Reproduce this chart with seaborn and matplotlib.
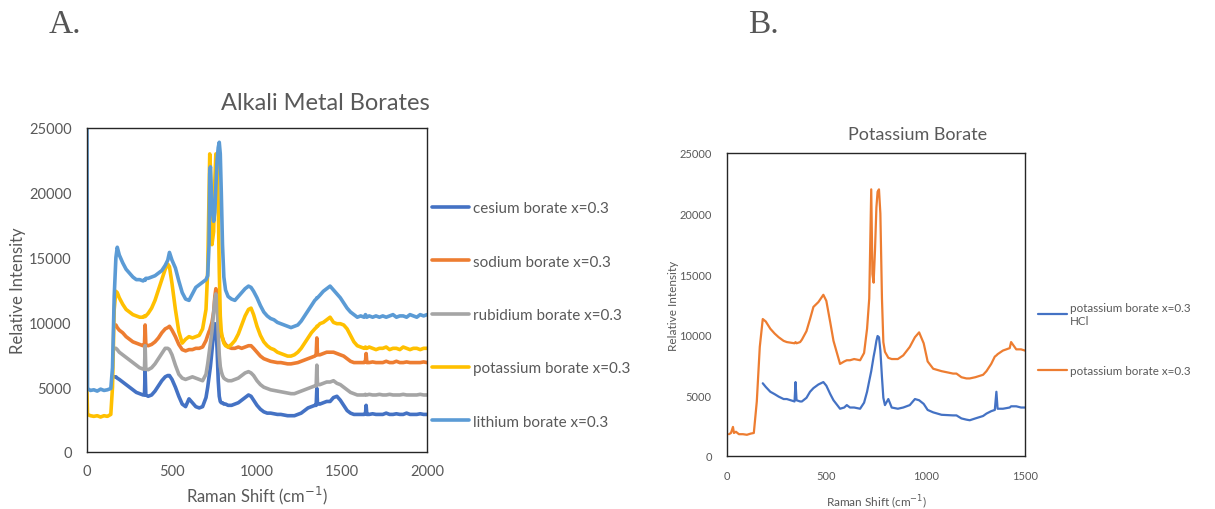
import numpy as np
import pandas as pd
import matplotlib
matplotlib.use("Agg")
import matplotlib.pyplot as plt
import seaborn as sns

nan = np.nan

# ---------------- Panel A data ----------------
shift_a = [
    0, 3, 20, 40, 60, 80, 100, 120, 140, 150,
    160, 170, 178, 190, 210, 230, 250, 270, 290, 310,
    330, 338, 342, 346, 360, 380, 400, 420, 440, 460,
    475, 485, 500, 520, 540, 560, 580, 600, 620, 640,
    660, 680, 700, 710, 718, 722, 726, 735, 745, 752,
    758, 765, 772, 778, 784, 790, 797, 805, 815, 830,
    850, 870, 890, 910, 930, 950, 965, 980, 1000, 1020,
    1040, 1060, 1080, 1100, 1120, 1140, 1160, 1180, 1200, 1220,
    1240, 1260, 1280, 1300, 1320, 1340, 1348, 1352, 1356, 1370,
    1390, 1410, 1430, 1450, 1470, 1490, 1510, 1530, 1550, 1570,
    1590, 1610, 1630, 1638, 1642, 1646, 1660, 1680, 1700, 1720,
    1740, 1760, 1780, 1800, 1820, 1840, 1860, 1880, 1900, 1920,
    1940, 1960, 1980, 2000,
]

cesium = [
    nan, nan, nan, nan, nan, nan, nan, nan, nan, nan,
    5800, 5800, 5700, 5600, 5400, 5200, 5000, 4800, 4600, 4500,
    4400, 4400, 6300, 4400, 4300, 4400, 4700, 5100, 5500, 5800,
    5900, 5900, 5600, 5000, 4300, 3700, 3500, 4100, 3800, 3500,
    3400, 3500, 4200, 5000, 5800, 6200, 6600, 7800, 9300, 9900,
    9600, 8000, 5500, 4300, 3900, 3800, 3800, 3700, 3700, 3600,
    3600, 3700, 3800, 4000, 4200, 4400, 4300, 4000, 3600, 3300,
    3100, 3000, 3000, 2950, 2900, 2900, 2850, 2800, 2800, 2800,
    2900, 3000, 3200, 3400, 3500, 3600, 3600, 4900, 3700, 3700,
    3800, 3900, 3900, 4200, 4300, 4000, 3600, 3200, 3000, 2900,
    2900, 2900, 2900, 2950, 3600, 2900, 2900, 2950, 2900, 2900,
    2900, 3000, 2900, 2900, 2950, 2900, 2900, 3000, 2900, 2900,
    2900, 2950, 2900, 2900,
]

sodium = [
    nan, nan, nan, nan, nan, nan, nan, nan, nan, nan,
    9700, 9800, 9600, 9400, 9200, 8900, 8700, 8500, 8400, 8300,
    8200, 8300, 9800, 8300, 8200, 8300, 8500, 8800, 9200, 9500,
    9600, 9700, 9400, 8900, 8300, 7900, 7800, 7900, 7900, 8000,
    8000, 8100, 8600, 9000, 9300, 9400, 9600, 10000, 10800, 12000,
    12600, 12400, 11000, 10000, 9300, 9000, 8800, 8500, 8300, 8100,
    8000, 8000, 8100, 8000, 8100, 8200, 8200, 8000, 7700, 7400,
    7200, 7100, 7000, 6950, 6900, 6900, 6850, 6800, 6800, 6850,
    6900, 7000, 7100, 7200, 7300, 7400, 7500, 8800, 7500, 7500,
    7600, 7700, 7700, 7700, 7600, 7500, 7400, 7200, 7000, 6900,
    6900, 6900, 6900, 7000, 7600, 6900, 6900, 6950, 6900, 6900,
    6900, 7000, 6900, 6900, 7000, 6900, 6900, 6950, 6900, 6900,
    6900, 6900, 6950, 6900,
]

rubidium = [
    nan, nan, nan, nan, nan, nan, nan, nan, nan, nan,
    8000, 8000, 7900, 7700, 7500, 7300, 7100, 6900, 6700, 6500,
    6400, 6400, 8200, 6400, 6350, 6500, 6800, 7200, 7600, 8000,
    8000, 7900, 7500, 6700, 6000, 5700, 5600, 5700, 5800, 5700,
    5600, 5500, 6000, 6800, 7600, 8000, 8400, 9300, 10800, 11800,
    12200, 11500, 9200, 7500, 6600, 6200, 5900, 5700, 5600, 5500,
    5500, 5600, 5700, 5900, 6100, 6200, 6100, 5900, 5500, 5200,
    5000, 4900, 4800, 4750, 4700, 4650, 4600, 4550, 4500, 4500,
    4600, 4700, 4800, 4900, 5000, 5100, 5100, 6700, 5200, 5200,
    5300, 5400, 5400, 5500, 5300, 5200, 5000, 4800, 4600, 4500,
    4400, 4400, 4400, 4450, 4400, 4400, 4450, 4400, 4400, 4450,
    4400, 4400, 4450, 4400, 4400, 4400, 4450, 4400, 4400, 4400,
    4400, 4450, 4400, 4400,
]

potassium = [
    4700, 2900, 2800, 2750, 2800, 2700, 2800, 2750, 2900, 5000,
    11000, 12400, 12300, 11900, 11400, 11000, 10800, 10600, 10500, 10400,
    10400, 10500, 10450, 10500, 10700, 11100, 11700, 12500, 13300, 14100,
    14500, 14300, 13000, 11000, 9300, 8400, 8700, 8900, 8800, 8900,
    9000, 9500, 11000, 14000, 20000, 23000, 22000, 16000, 17000, 21000,
    23000, 22800, 19000, 14000, 10500, 9300, 8800, 8400, 8200, 8100,
    8300, 8600, 9100, 9800, 10500, 11000, 11100, 10600, 9700, 9000,
    8500, 8200, 8000, 7900, 7700, 7600, 7500, 7400, 7400, 7500,
    7700, 8000, 8400, 8800, 9200, 9500, 9600, 9700, 9700, 9900,
    10000, 10200, 10400, 10000, 9900, 9900, 9800, 9500, 9000, 8500,
    8200, 8100, 8000, 8100, 8000, 8000, 8100, 8000, 7900, 8000,
    8000, 8100, 7900, 8000, 8000, 7900, 8100, 8000, 7900, 8000,
    8000, 7900, 8000, 8000,
]

lithium = [
    25000, 4900, 4750, 4800, 4700, 4850, 4750, 4800, 4900, 6500,
    12000, 15000, 15800, 15200, 14600, 14100, 13800, 13500, 13300, 13300,
    13200, 13300, 13250, 13400, 13400, 13500, 13600, 13800, 14000, 14400,
    14800, 15400, 14800, 14200, 13200, 12300, 11800, 11700, 12200, 12700,
    12900, 13100, 13300, 13600, 16000, 21500, 22000, 19000, 17800, 18500,
    20500, 22500, 23500, 23900, 23000, 20000, 16000, 13500, 12500, 12000,
    11800, 11700, 12000, 12300, 12600, 12800, 12700, 12400, 11900, 11300,
    10800, 10500, 10300, 10200, 10000, 9900, 9800, 9700, 9600, 9700,
    9800, 10100, 10500, 10900, 11300, 11700, 11800, 11900, 11900, 12100,
    12400, 12600, 12800, 12500, 12200, 11900, 11500, 11100, 10800, 10600,
    10400, 10500, 10400, 10600, 10500, 10400, 10500, 10400, 10500, 10400,
    10500, 10400, 10500, 10600, 10400, 10500, 10500, 10400, 10600, 10500,
    10400, 10600, 10500, 10600,
]

series_a_names = ["cesium borate x=0.3", "sodium borate x=0.3",
                  "rubidium borate x=0.3", "potassium borate x=0.3",
                  "lithium borate x=0.3"]
series_a_values = [cesium, sodium, rubidium, potassium, lithium]
colors_a = ["#4472C4", "#ED7D31", "#A5A5A5", "#FFC000", "#5B9BD5"]

# ---------------- Panel B data ----------------
shift_b = [
    10, 20, 30, 35, 45, 60, 80, 100, 120, 135,
    150, 165, 180, 195, 218, 240, 260, 285, 301, 340,
    345, 350, 368, 377, 400, 418, 435, 460, 485, 500,
    520, 536, 569, 590, 603, 619, 640, 670, 690, 705,
    716, 726, 732, 738, 745, 752, 758, 765, 772, 780,
    787, 795, 812, 829, 860, 887, 920, 946, 967, 990,
    1010, 1038, 1080, 1138, 1155, 1180, 1205, 1222, 1250, 1289,
    1306, 1330, 1348, 1356, 1362, 1389, 1423, 1430, 1456, 1480,
    1500,
]

k_hcl = [
    nan, nan, nan, nan, nan, nan, nan, nan, nan, nan,
    nan, nan, 6000, 5700, 5300, 5100, 4900, 4700, 4700, 4500,
    6100, 4600, 4500, 4500, 4800, 5300, 5600, 5900, 6100, 5800,
    5100, 4600, 3900, 4000, 4200, 4000, 4000, 3900, 4400, 5300,
    6200, 7000, 7600, 8200, 8800, 9500, 9900, 9800, 8700, 6500,
    4800, 4200, 4700, 4000, 3900, 4000, 4200, 4700, 4600, 4300,
    3800, 3600, 3400, 3350, 3350, 3100, 3000, 2950, 3100, 3300,
    3500, 3700, 3800, 5300, 3900, 3900, 4000, 4100, 4100, 4000,
    4000,
]

k_plain = [
    1800, 1900, 2400, 1900, 2000, 1800, 1800, 1750, 1850, 1900,
    4500, 9000, 11300, 11100, 10500, 10100, 9800, 9500, 9400, 9300,
    9400, 9300, 9400, 9600, 10300, 11300, 12300, 12700, 13300, 12800,
    11000, 9500, 7600, 7800, 7900, 7900, 8000, 7900, 8500, 10500,
    13000, 22000, 15000, 14300, 17000, 20500, 21800, 22000, 20000, 13000,
    9400, 8600, 8100, 8000, 8000, 8300, 9000, 9800, 10200, 9300,
    7800, 7200, 7000, 6800, 6800, 6500, 6400, 6400, 6500, 6700,
    7000, 7600, 8200, 8300, 8400, 8700, 8900, 9400, 8800, 8800,
    8700,
]

series_b_names = ["potassium borate x=0.3\nHCl", "potassium borate x=0.3"]
series_b_values = [k_hcl, k_plain]
colors_b = ["#4472C4", "#ED7D31"]

# ---------------- Build frames ----------------
df_a = pd.concat([
    pd.DataFrame({"shift": shift_a, "intensity": vals, "series": name})
    for name, vals in zip(series_a_names, series_a_values)
], ignore_index=True)
df_b = pd.concat([
    pd.DataFrame({"shift": shift_b, "intensity": vals, "series": name})
    for name, vals in zip(series_b_names, series_b_values)
], ignore_index=True)

sns.set_style("white")
plt.rcParams["font.family"] = ["Lato", "DejaVu Sans"]
txt = "#595959"

fig = plt.figure(figsize=(12.15, 5.1), dpi=100)
W, H = 1215, 510


def add_ax(l, t, r, b):
    return fig.add_axes([l / W, (H - b) / H, (r - l) / W, (b - t) / H])


def style_ax(ax, tick_fs, pad_y, pad_x):
    for s in ax.spines.values():
        s.set_visible(True)
        s.set_color("#262626")
        s.set_linewidth(1.0)
    ax.tick_params(axis="both", length=0, colors=txt, labelsize=tick_fs)
    ax.tick_params(axis="y", pad=pad_y)
    ax.tick_params(axis="x", pad=pad_x)
    ax.grid(False)


# ---------- Panel A ----------
axA = add_ax(87, 129, 427, 453)
sns.lineplot(data=df_a, x="shift", y="intensity", hue="series",
             hue_order=series_a_names, palette=colors_a, sort=False,
             estimator=None, linewidth=2.6, ax=axA)
axA.set_xlim(0, 2000)
axA.set_ylim(0, 25000)
axA.set_xticks([0, 500, 1000, 1500, 2000])
axA.set_yticks([0, 5000, 10000, 15000, 20000, 25000])
style_ax(axA, 10.5, 11, 9)
axA.set_xlabel("Raman Shift (cm$^{-1}$)", fontsize=12, color=txt, labelpad=4)
axA.set_ylabel("Relative Intensity", fontsize=12, color=txt, labelpad=2)
axA.set_title("Alkali Metal Borates", fontsize=17, color=txt, pad=14,
              x=0.70)
axA.legend(loc="center left", bbox_to_anchor=(432 / W, (H - 316) / H),
           bbox_transform=fig.transFigure, frameon=False, fontsize=11,
           handlelength=2.4, handletextpad=0.3, labelspacing=2.58,
           borderpad=0, borderaxespad=0, labelcolor=txt)

# ---------- Panel B ----------
axB = add_ax(727, 154, 1025, 457)
sns.lineplot(data=df_b, x="shift", y="intensity", hue="series",
             hue_order=series_b_names, palette=colors_b, sort=False,
             estimator=None, linewidth=1.6, ax=axB)
axB.set_xlim(0, 1500)
axB.set_ylim(0, 25000)
axB.set_xticks([0, 500, 1000, 1500])
axB.set_yticks([0, 5000, 10000, 15000, 20000, 25000])
style_ax(axB, 8, 11, 10)
axB.set_xlabel("Raman Shift (cm$^{-1}$)", fontsize=8.5, color=txt, labelpad=9)
axB.set_ylabel("Relative Intensity", fontsize=8.5, color=txt, labelpad=0)
axB.set_title("Potassium Borate", fontsize=13, color=txt, pad=10, x=0.64)
axB.legend(loc="center left", bbox_to_anchor=(1038 / W, (H - 340) / H),
           bbox_transform=fig.transFigure, frameon=False, fontsize=8.4,
           handlelength=2.5, handletextpad=0.2, labelspacing=3.4,
           borderpad=0, borderaxespad=0, labelcolor=txt)

# ---------- panel letters ----------
fig.text(49 / W, (H - 33) / H, "A.", fontsize=24, color="#555555",
         family=["Liberation Serif", "DejaVu Serif"], va="baseline")
fig.text(748 / W, (H - 33) / H, "B.", fontsize=24, color="#555555",
         family=["Liberation Serif", "DejaVu Serif"], va="baseline")

fig.savefig("out.png", dpi=100, facecolor="white")
